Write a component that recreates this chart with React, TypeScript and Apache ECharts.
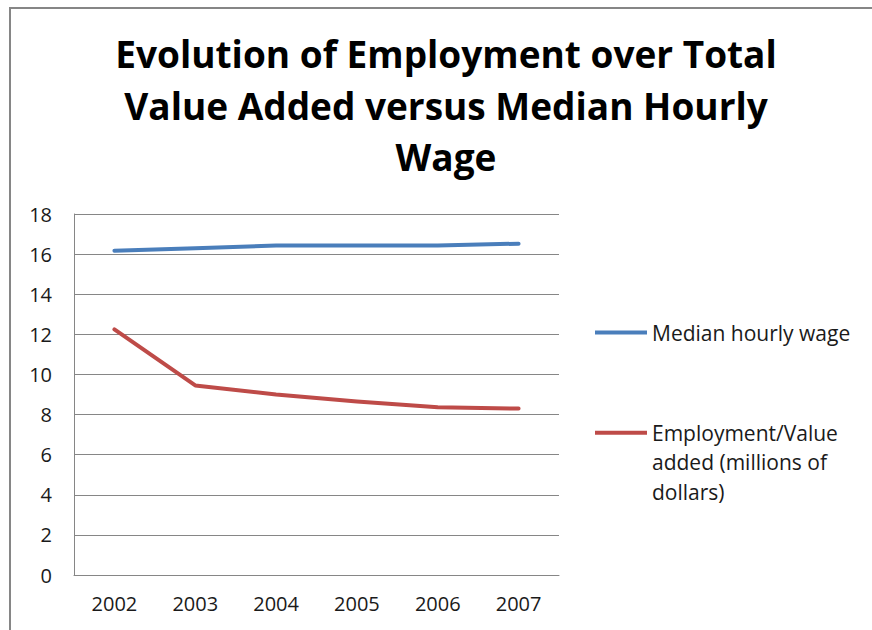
import React, { useEffect, useRef } from "react";
import * as echarts from "echarts";

const titleLines = [
  "Evolution of Employment over Total",
  "Value Added versus Median Hourly",
  "Wage",
];
const years = ["2002", "2003", "2004", "2005", "2006", "2007"];
const wageName = "Median hourly wage";
const wageValues = [16.17, 16.29, 16.43, 16.43, 16.43, 16.52];
const ratioName = "Employment/Value added (millions of dollars)";
const ratioLegendLines = ["Employment/Value", "added (millions of", "dollars)"];
const ratioValues = [12.25, 9.45, 9.0, 8.65, 8.36, 8.3];
const yMin = 0;
const yMax = 18;
const yStep = 2;

const FONT = "'Open Sans', 'Noto Sans', sans-serif";
const GRAY = "#868686";
const BLUE = "#4A7EBB";
const RED = "#BE4B48";

export default function App() {
  const ref = useRef<HTMLDivElement>(null);

  useEffect(() => {
    if (!ref.current) return;
    const chart = echarts.init(ref.current, undefined, { renderer: "svg" });
    chart.setOption({
      animation: false,
      backgroundColor: "#ffffff",
      textStyle: { fontFamily: FONT },
      graphic: [
        {
          type: "rect",
          shape: { x: 10, y: 8, width: 900, height: 700 },
          style: { fill: "none", stroke: GRAY, lineWidth: 2 },
          silent: true,
        },
        {
          type: "text",
          x: 446,
          y: 28,
          style: {
            text: titleLines.join("\n"),
            align: "center",
            verticalAlign: "top",
            fontFamily: FONT,
            fontWeight: "bold",
            fontSize: 37,
            lineHeight: 51.5,
            fill: "#000000",
          },
        },
      ],
      grid: { left: 74, right: 313, top: 214, bottom: 55, containLabel: false },
      legend: [
        {
          orient: "vertical",
          left: 590,
          top: 317,
          data: [wageName],
          icon: "rect",
          itemWidth: 52,
          itemHeight: 4,
          itemGap: 0,
          textStyle: { fontFamily: FONT, fontSize: 21, color: "#1a1a1a" },
          selectedMode: false,
        },
        {
          orient: "vertical",
          left: 590,
          top: 354,
          data: [ratioName],
          icon: "rect",
          itemWidth: 52,
          itemHeight: 4,
          itemGap: 0,
          formatter: () => ["", "", ...ratioLegendLines].join("\n"),
          textStyle: {
            fontFamily: FONT,
            fontSize: 21,
            lineHeight: 29.5,
            color: "#1a1a1a",
          },
          selectedMode: false,
        },
      ],
      xAxis: {
        type: "category",
        data: years,
        boundaryGap: true,
        axisLine: { show: true, lineStyle: { color: GRAY, width: 1 } },
        axisTick: { show: false },
        axisLabel: { color: "#1a1a1a", fontSize: 20, fontFamily: FONT, margin: 18 },
        splitLine: { show: false },
      },
      yAxis: {
        type: "value",
        min: yMin,
        max: yMax,
        interval: yStep,
        axisLine: { show: true, lineStyle: { color: GRAY, width: 1 } },
        axisTick: { show: false },
        axisLabel: { color: "#1a1a1a", fontSize: 20, fontFamily: FONT, margin: 22 },
        splitLine: { show: true, lineStyle: { color: GRAY, width: 1 } },
      },
      series: [
        {
          name: wageName,
          type: "line",
          data: wageValues,
          symbol: "none",
          lineStyle: { color: BLUE, width: 4, cap: "round", join: "round" },
          itemStyle: { color: BLUE },
        },
        {
          name: ratioName,
          type: "line",
          data: ratioValues,
          symbol: "none",
          lineStyle: { color: RED, width: 4, cap: "round", join: "round" },
          itemStyle: { color: RED },
        },
      ],
    });
    return () => chart.dispose();
  }, []);

  return (
    <div
      ref={ref}
      style={{ position: "absolute", left: 0, top: 0, width: 872, height: 630 }}
    />
  );
}
